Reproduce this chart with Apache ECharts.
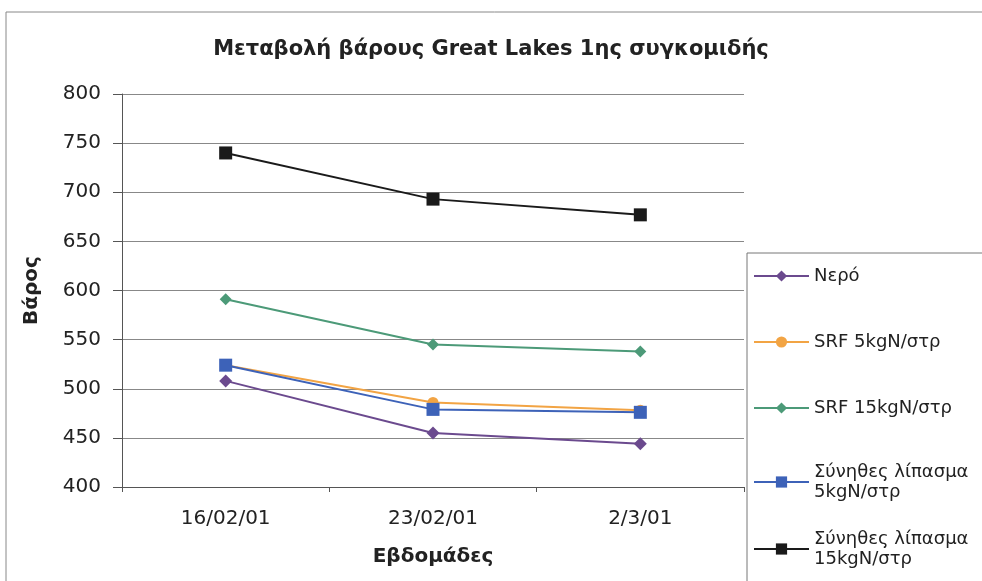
<!DOCTYPE html>
<html><head><meta charset="utf-8">
<script src="https://cdn.jsdelivr.net/npm/echarts@6/dist/echarts.min.js"></script>
<style>html,body{margin:0;padding:0;background:#fff}#c{width:982px;height:581px}</style>
</head><body><div id="c"></div>
<script>
const categories = ['16/02/01', '23/02/01', '2/3/01'];
const seriesNames = ['Νερό', 'SRF 5kgN/στρ', 'SRF 15kgN/στρ', 'Σύνηθες λίπασμα\n5kgN/στρ', 'Σύνηθες λίπασμα\n15kgN/στρ'];
const nero = [508, 455, 444];
const srf5 = [524, 486, 478];
const srf15 = [591, 545, 538];
const syn5 = [524, 479, 476];
const syn15 = [740, 693, 677];
const yTicks = {min: 400, max: 800, interval: 50};

const colors = ['#6b4a8e', '#f2a444', '#4c9a78', '#3d62b8', '#1a1a1a'];
const symbols = ['diamond', 'circle', 'diamond', 'rect', 'rect'];
const sizes = [13, 11, 12, 13, 13];
const data = [nero, srf5, srf15, syn5, syn15];
const FONT = 'DejaVu Sans, sans-serif';

const chart = echarts.init(document.getElementById('c'));
chart.setOption({
  backgroundColor: '#fff',
  animation: false,
  title: {
    text: 'Μεταβολή βάρους Great Lakes 1ης συγκομιδής',
    left: 'center', top: 34,
    textStyle: {fontFamily: FONT, fontSize: 21, fontWeight: 'bold', color: '#222'}
  },
  graphic: [
    {type: 'rect', shape: {x: 6, y: 12, width: 1000, height: 600}, style: {fill: 'none', stroke: '#888', lineWidth: 1}, silent: true},
    {type: 'rect', shape: {x: 747, y: 253, width: 300, height: 400}, style: {fill: '#fff', stroke: '#777', lineWidth: 1}, silent: true}
  ],
  legend: [
    {
      data: seriesNames.slice(0, 3), orient: 'vertical', left: 748, top: 262, height: 200,
      itemWidth: 55, itemHeight: 14, itemGap: 48,
      textStyle: {fontFamily: FONT, fontSize: 18, color: '#222', lineHeight: 18}
    },
    {
      data: seriesNames.slice(3), orient: 'vertical', left: 748, top: 457, height: 200,
      itemWidth: 55, itemHeight: 14, itemGap: 27,
      textStyle: {fontFamily: FONT, fontSize: 18, color: '#222', lineHeight: 20}
    }
  ],
  grid: {left: 122, right: 238, top: 94, bottom: 94, containLabel: false},
  xAxis: {
    type: 'category', data: categories, boundaryGap: true,
    name: 'Εβδομάδες', nameLocation: 'middle', nameGap: 60,
    nameTextStyle: {fontFamily: FONT, fontSize: 20, fontWeight: 'bold', color: '#222'},
    axisLine: {lineStyle: {color: '#555'}},
    axisTick: {show: true, length: 5, lineStyle: {color: '#555'}},
    axisLabel: {fontFamily: FONT, fontSize: 20, color: '#222', margin: 22}
  },
  yAxis: {
    type: 'value', min: yTicks.min, max: yTicks.max, interval: yTicks.interval,
    name: 'Βάρος', nameLocation: 'middle', nameGap: 80,
    nameTextStyle: {fontFamily: FONT, fontSize: 20, fontWeight: 'bold', color: '#222'},
    axisLine: {show: true, lineStyle: {color: '#555'}},
    axisTick: {show: true, length: 9, lineStyle: {color: '#555'}},
    axisLabel: {fontFamily: FONT, fontSize: 20, color: '#222', margin: 21},
    splitLine: {lineStyle: {color: '#888', width: 1}}
  },
  series: data.map((d, i) => ({
    name: seriesNames[i], type: 'line', data: d,
    symbol: symbols[i], symbolSize: sizes[i],
    lineStyle: {color: colors[i], width: 2},
    itemStyle: {color: colors[i]},
    z: 2 + i
  }))
});
</script></body></html>
